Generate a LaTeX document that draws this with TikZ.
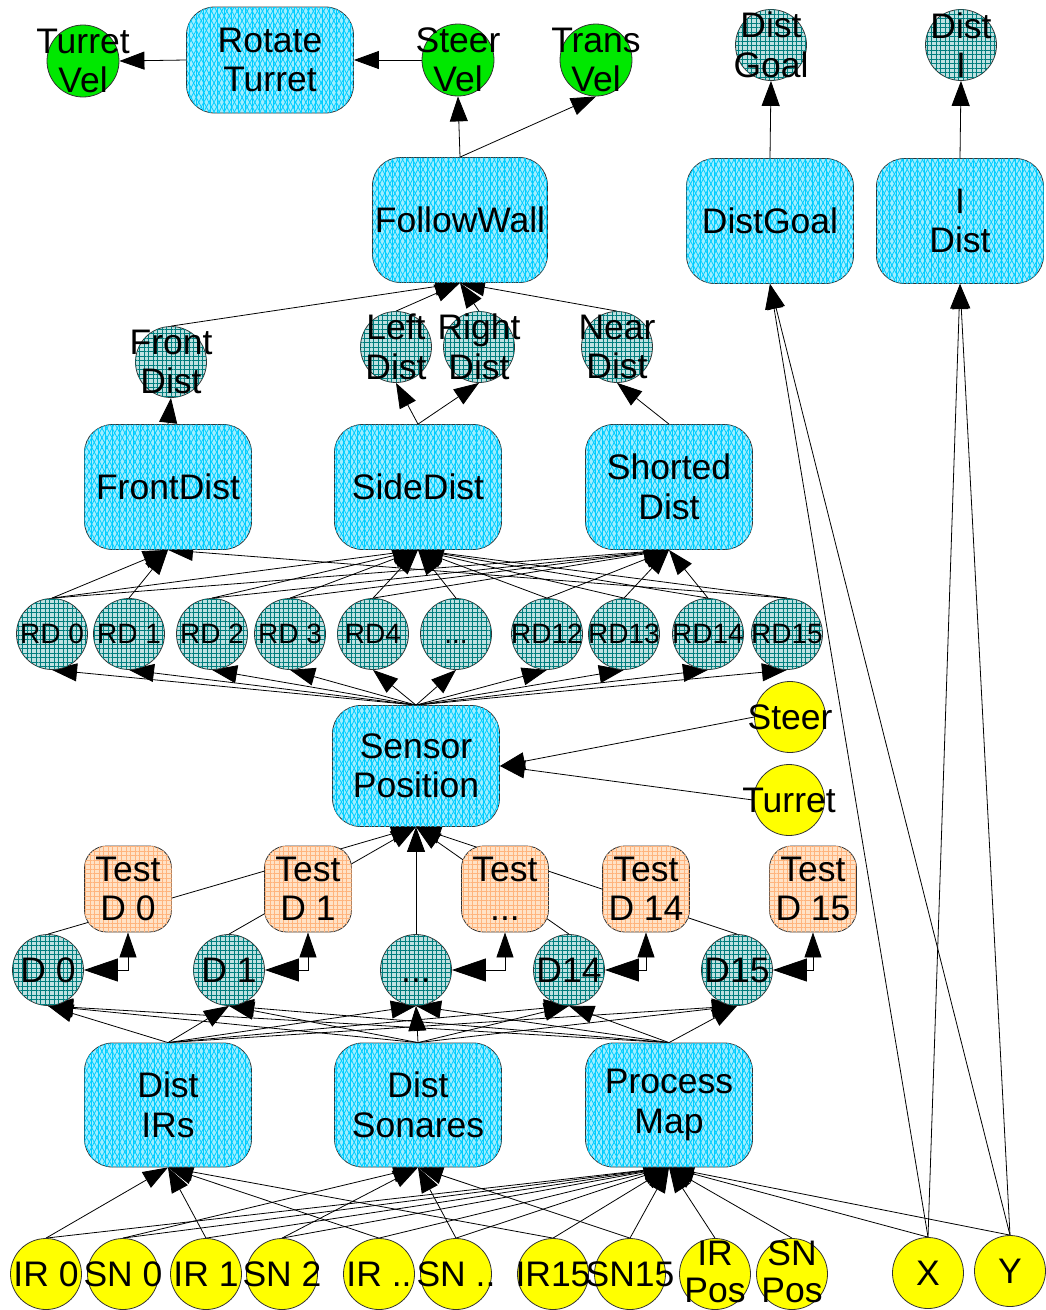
\documentclass[tikz,border=0pt]{standalone}
\usepackage{fontspec}
\setmainfont{Liberation Sans}
\usetikzlibrary{arrows.meta,patterns.meta}

\definecolor{blueBase}{RGB}{160,238,255}
\definecolor{blueLine}{RGB}{0,205,255}
\definecolor{tealBase}{RGB}{190,225,225}
\definecolor{tealLine}{RGB}{0,125,125}
\definecolor{peachBase}{RGB}{255,226,198}
\definecolor{peachLine}{RGB}{255,180,125}
\definecolor{greenIO}{RGB}{0,232,0}
\definecolor{yellowIO}{RGB}{255,255,0}
\definecolor{rimGray}{RGB}{50,50,50}

\pgfdeclarelayer{edges}
\pgfsetlayers{edges,main}

\newcommand\rdfont{\fontsize{28}{32}\selectfont}

\tikzset{
  bigfont/.style={font=\fontsize{35.5}{39.5}\selectfont},
  tightfont/.style={font=\fontsize{35.5}{37}\selectfont},
  lbl/.style={bigfont, align=center, inner sep=0pt},
  module/.style={rectangle, rounded corners=28pt, draw=rimGray, line width=0.8pt,
    minimum width=167pt, minimum height=125pt, inner sep=0pt, bigfont, align=center,
    fill=blueBase,
    postaction={pattern={Lines[angle=62,distance=4.5pt,line width=0.8pt]}, pattern color=blueLine},
    postaction={pattern={Lines[angle=-62,distance=4.5pt,line width=0.8pt]}, pattern color=blueLine},
    postaction={pattern={Lines[angle=90,distance=7pt,line width=0.6pt]}, pattern color=blueLine}},
  testbox/.style={rectangle, rounded corners=22pt, draw=rimGray, line width=0.8pt,
    minimum width=87pt, minimum height=86pt, inner sep=0pt, bigfont, align=center,
    fill=peachBase,
    postaction={pattern={Lines[angle=0,distance=4.5pt,line width=0.7pt]}, pattern color=peachLine},
    postaction={pattern={Lines[angle=90,distance=4.5pt,line width=0.7pt]}, pattern color=peachLine}},
  datum/.style={circle, minimum size=71pt, inner sep=0pt, draw=rimGray, line width=0.8pt,
    fill=tealBase,
    postaction={pattern={Lines[angle=0,distance=4.5pt,line width=0.9pt]}, pattern color=tealLine},
    postaction={pattern={Lines[angle=90,distance=4.5pt,line width=0.9pt]}, pattern color=tealLine}},
  sensorin/.style={circle, minimum size=71pt, inner sep=0pt, draw=rimGray, line width=0.8pt, fill=yellowIO},
  actout/.style={circle, minimum size=72pt, inner sep=0pt, draw=rimGray, line width=0.8pt, fill=greenIO},
  e/.style={draw=black, line width=0.8pt, -{Triangle[length=25pt,width=18pt]}},
  elbow/.style={draw=black, line width=0.8pt,
    {Triangle[length=34pt,width=23pt]}-{Triangle[length=25pt,width=17pt]}},
}

% circle node with its caption set as a separate, freely overflowing label
\newcommand\cnode[5]{%
  \node[#4] (#1) at (#2,#3) {};
  \node[lbl] (#1-lbl) at (#1) {#5};}

\begin{document}
\begin{tikzpicture}[x=1pt,y=-1pt]
\useasboundingbox (0,0) rectangle (1045,1310);

% ---- outputs and top modules
\cnode{tvel}{83}{61}{actout}{Turret\\Vel}
\cnode{svel}{458}{60}{actout}{Steer\\Vel}
\cnode{trvel}{596}{60}{actout}{Trans\\Vel}
\node[module, minimum height=106pt] (rot) at (270,60) {Rotate\\Turret};
\cnode{dgc}{771}{45}{datum}{Dist\\Goal}
\cnode{dic}{961}{45}{datum}{Dist\\I}

\node[module, minimum width=175pt] (fw) at (460,220) {FollowWall};
\node[module] (dgb) at (770,221) {DistGoal};
\node[module] (idb) at (960,221) {I\\Dist};

% ---- distance features
\cnode{fdc}{171}{362}{datum}{Front\\Dist}
\cnode{ldc}{396}{347}{datum}{Left\\Dist}
\cnode{rdc}{479}{347}{datum}{Right\\Dist}
\cnode{ndc}{617}{347}{datum}{Near\\Dist}

\node[module] (fdb) at (168,487) {FrontDist};
\node[module] (sdb) at (418,487) {SideDist};
\node[module] (shb) at (669,487) {Shorted\\Dist};

% ---- relative distances
\cnode{rd0}{52}{634}{datum}{\rdfont RD 0}
\cnode{rd1}{129}{634}{datum}{\rdfont RD 1}
\cnode{rd2}{212}{634}{datum}{\rdfont RD 2}
\cnode{rd3}{290}{634}{datum}{\rdfont RD 3}
\cnode{rd4}{373}{634}{datum}{\rdfont RD4}
\cnode{rdx}{456}{634}{datum}{\rdfont\vphantom{D}...}
\cnode{rd12}{547}{634}{datum}{\rdfont RD12}
\cnode{rd13}{624}{634}{datum}{\rdfont RD13}
\cnode{rd14}{708}{634}{datum}{\rdfont RD14}
\cnode{rd15}{787}{634}{datum}{\rdfont RD15}

\node[module, minimum height=121pt] (sp) at (416,766) {Sensor\\Position};
\cnode{steer}{790}{717}{sensorin}{Steer}
\cnode{turret}{789}{800}{sensorin}{Turret}

% ---- validity tests and raw distances
\node[testbox] (t0) at (128,889) {Test\\D 0};
\node[testbox] (t1) at (308,889) {Test\\D 1};
\node[testbox] (tx) at (505,889) {Test\\...};
\node[testbox] (t14) at (646,889) {Test\\D 14};
\node[testbox] (t15) at (813,889) {Test\\D 15};

\cnode{d0}{48}{970}{datum}{D 0}
\cnode{d1}{229}{970}{datum}{D 1}
\cnode{dx}{416}{970}{datum}{\vphantom{D}...}
\cnode{d14}{569}{970}{datum}{D14}
\cnode{d15}{737}{970}{datum}{D15}

\node[module, minimum height=124pt] (dir) at (168,1105) {Dist\\IRs};
\node[module, minimum height=124pt] (dso) at (418,1105) {Dist\\Sonares};
\node[module, minimum height=124pt] (pm) at (669,1105) {Process\\Map};

% ---- sensor inputs
\cnode{ir0}{46}{1274}{sensorin}{IR 0}
\cnode{sn0}{123}{1274}{sensorin}{SN 0}
\cnode{ir1}{206}{1274}{sensorin}{IR 1}
\cnode{sn2}{282}{1274}{sensorin}{SN 2}
\cnode{irx}{379}{1274}{sensorin}{IR ..}
\cnode{snx}{456}{1274}{sensorin}{SN ..}
\cnode{ir15}{553}{1274}{sensorin}{IR15}
\cnode{sn15}{630}{1274}{sensorin}{SN15}
\node[sensorin] (irp) at (715,1274) {};
\node[lbl, tightfont] (irp-lbl) at ([yshift=2pt]irp.center) {IR\\Pos};
\node[sensorin] (snp) at (792,1274) {};
\node[lbl, tightfont] (snp-lbl) at ([yshift=2pt]snp.center) {SN\\Pos};
\cnode{px}{928}{1273}{sensorin}{X}
\cnode{py}{1010}{1271}{sensorin}{Y}

\begin{pgfonlayer}{edges}
  \draw[e] (rot.west) -- (tvel.east);
  \draw[e] (svel.west) -- (rot.east);
  \draw[e] (fw.north) -- (svel.south);
  \draw[e] (fw.north) -- (trvel.south);
  \draw[e] (dgb.north) -- (dgc.south);
  \draw[e] (idb.north) -- (dic.south);

  \foreach \s in {fdc,ldc,rdc,ndc} \draw[e] (\s.north) -- (fw.south);
  \draw[e] (fdb.north) -- (fdc.south);
  \draw[e] (sdb.north) -- (ldc.south);
  \draw[e] (sdb.north) -- (rdc.south);
  \draw[e] (shb.north) -- (ndc.south);

  \foreach \s in {rd0,rd1,rd15} \draw[e] (\s.north) -- (fdb.south);
  \foreach \s in {rd0,rd2,rd3,rd4,rdx,rd12,rd13,rd14,rd15} \draw[e] (\s.north) -- (sdb.south);
  \foreach \s in {rd0,rd2,rd3,rd4,rd12,rd13,rd14} \draw[e] (\s.north) -- (shb.south);

  \foreach \s in {rd0,rd1,rd2,rd3,rd4,rdx,rd12,rd13,rd14,rd15} \draw[e] (sp.north) -- (\s.south);
  \draw[e] (steer.west) -- (sp.east);
  \draw[e] (turret.west) -- (sp.east);

  \foreach \s in {d0,d1,dx,d14,d15} \draw[e] (\s.north) -- (sp.south);
  \draw[elbow] (d0.east) -| (t0.south);
  \draw[elbow] (d1.east) -| (t1.south);
  \draw[elbow] (dx.east) -| (tx.south);
  \draw[elbow] (d14.east) -| (t14.south);
  \draw[elbow] (d15.east) -| (t15.south);

  \foreach \m in {dir,dso,pm}
    \foreach \s in {d0,d1,dx,d14,d15} \draw[e] (\m.north) -- (\s.south);

  \foreach \s in {ir0,ir1,irx,ir15} \draw[e] (\s.north) -- (dir.south);
  \foreach \s in {sn0,sn2,snx,sn15} \draw[e] (\s.north) -- (dso.south);
  \foreach \s in {ir0,sn0,ir1,sn2,irx,snx,ir15,sn15,irp,snp,px,py} \draw[e] (\s.north) -- (pm.south);

  \foreach \s in {px,py} {
    \draw[e] (\s.north) -- (dgb.south);
    \draw[e] (\s.north) -- (idb.south);
  }
\end{pgfonlayer}
\end{tikzpicture}
\end{document}
